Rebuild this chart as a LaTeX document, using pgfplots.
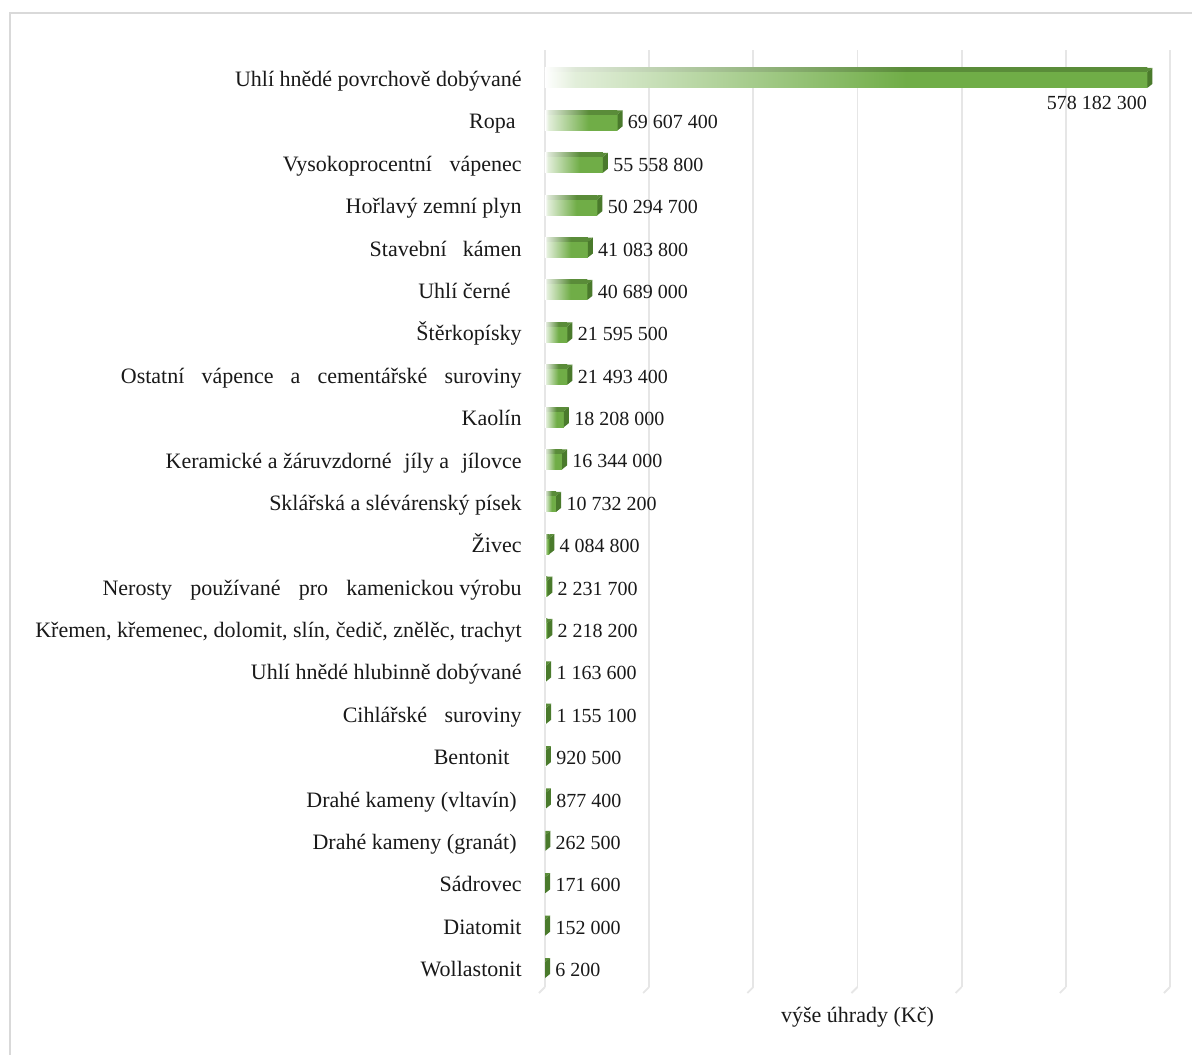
\documentclass[border=0pt]{standalone}
\usepackage{fontspec}
\setmainfont{Liberation Serif}
\usepackage{pgfplots}
\pgfplotsset{compat=1.18}
\usepackage{pgfplotstable}
\definecolor{g}{HTML}{70AD47}
\definecolor{gtop}{HTML}{5A8C39}
\definecolor{gside}{HTML}{4A7A2C}
\definecolor{gridc}{HTML}{E6E6E6}
\definecolor{framec}{HTML}{D9D9D9}
\colorlet{gpale}{white!80!g}
\colorlet{gtoppale}{white!80!gtop}
\pgfdeclarehorizontalshading{frontshade}{100bp}{color(0bp)=(white); color(25bp)=(white); color(27.5bp)=(gpale); color(55bp)=(g); color(100bp)=(g)}
\pgfdeclarehorizontalshading{topshade}{100bp}{color(0bp)=(white); color(25bp)=(white); color(27.5bp)=(gtoppale); color(55bp)=(gtop); color(100bp)=(gtop)}
\pgfdeclareplotmark{side3d}{%
  \pgfsetfillcolor{gside}%
  \pgfpathmoveto{\pgfqpoint{0pt}{-4pt}}%
  \pgfpathlineto{\pgfqpoint{2.5pt}{-2pt}}%
  \pgfpathlineto{\pgfqpoint{2.5pt}{6pt}}%
  \pgfpathlineto{\pgfqpoint{0pt}{4pt}}%
  \pgfpathclose
  \pgfusepathqfill
  \pgfsetfillcolor{gtop}%
  \pgfpathmoveto{\pgfqpoint{0pt}{4pt}}%
  \pgfpathlineto{\pgfqpoint{2.5pt}{6pt}}%
  \pgfpathlineto{\pgfqpoint{0pt}{6pt}}%
  \pgfpathclose
  \pgfusepathqfill
}
\pgfplotstableread{
y x lab
21 578182300 578~182~300
20 69607400 69~607~400
19 55558800 55~558~800
18 50294700 50~294~700
17 41083800 41~083~800
16 40689000 40~689~000
15 21595500 21~595~500
14 21493400 21~493~400
13 18208000 18~208~000
12 16344000 16~344~000
11 10732200 10~732~200
10 4084800 4~084~800
9 2231700 2~231~700
8 2218200 2~218~200
7 1163600 1~163~600
6 1155100 1~155~100
5 920500 920~500
4 877400 877~400
3 262500 262~500
2 171600 171~600
1 152000 152~000
0 6200 6~200
}\data
\begin{document}
\begin{tikzpicture}
\useasboundingbox (-272.5pt,-33.5pt) rectangle (323.5pt,493.5pt);
\draw[framec, line width=1.3pt] (-267.5pt,-40pt) -- (-267.5pt,487pt) -- (330pt,487pt);
\begin{axis}[
  at={(0,0)}, anchor=south west, scale only axis,
  width=312.5pt, height=468.5pt,
  xmin=0, xmax=600000000, ymin=-0.401, ymax=21.708,
  xtick={0,100000000,200000000,300000000,400000000,500000000,600000000},
  xticklabels={}, scaled x ticks=false,
  ytick=\empty,
  xmajorgrids, grid style={gridc, line width=0.9pt},
  axis line style={draw=none}, tick style={draw=none},
  xlabel={výše úhrady (Kč)},
  xlabel style={font=\fontsize{11}{13}\selectfont, at={(axis description cs:0.5,0)}, anchor=center, yshift=-15pt, text=black!90},
  clip=false,
]
\pgfplotsinvokeforeach{0,100000000,200000000,300000000,400000000,500000000,600000000}{
  \draw[gridc, line width=0.9pt] (axis cs:#1,-0.401) -- ++(-3pt,-3pt);
}
\pgfplotsinvokeforeach{0,...,21}{
  \addplot[xbar, bar width=8pt, bar shift=0pt, draw=none, shade, shading=frontshade,
    x filter/.code={\ifnum\coordindex=#1\relax\else\let\pgfmathresult\empty\fi}] table[x=x,y=y]{\data};
  \addplot[xbar, bar width=2pt, bar shift=5pt, draw=none, shade, shading=topshade,
    x filter/.code={\ifnum\coordindex=#1\relax\else\let\pgfmathresult\empty\fi}] table[x=x,y=y]{\data};
}
\addplot[only marks, mark=side3d, nodes near coords, point meta=explicit symbolic,
  nodes near coords style={anchor=west, inner sep=0pt, xshift=5pt, font=\fontsize{10}{12}\selectfont, text=black!90},
  skip coords between index={0}{1}] table[x=x,y=y,meta=lab]{\data};
\addplot[only marks, mark=side3d, nodes near coords, point meta=explicit symbolic,
  nodes near coords style={anchor=north east, inner sep=0pt, xshift=0pt, yshift=-8pt, font=\fontsize{10}{12}\selectfont, text=black!90},
  skip coords between index={1}{22}] table[x=x,y=y,meta=lab]{\data};
% category labels
\addplot[only marks, mark=none, nodes near coords, point meta=explicit symbolic,
  nodes near coords style={anchor=base east, inner sep=0pt, xshift=-11.5pt, yshift=-3.3pt, font=\fontsize{11}{13}\selectfont, text=black!90}]
  coordinates {
    (0,21) [{Uhlí hnědé povrchově dobývané}]
    (0,20) [{Ropa\hspace*{3pt}}]
    (0,19) [{Vysokoprocentní\hspace{6pt} vápenec}]
    (0,18) [{Hořlavý zemní plyn}]
    (0,17) [{Stavební\hspace{5.4pt} kámen}]
    (0,16) [{Uhlí černé\hspace*{5.5pt}}]
    (0,15) [{Štěrkopísky}]
    (0,14) [{Ostatní\hspace{5.8pt} vápence\hspace{5.8pt} a\hspace{5.8pt} cementářské\hspace{5.8pt} suroviny}]
    (0,13) [{Kaolín}]
    (0,12) [{Keramické a žáruvzdorné\hspace{3.6pt} jíly a\hspace{3.6pt} jílovce}]
    (0,11) [{Sklářská a slévárenský písek}]
    (0,10) [{Živec}]
    (0,9) [{Nerosty\hspace{6.3pt} používané\hspace{6.3pt} pro\hspace{6.3pt} kamenickou výrobu}]
    (0,8) [{Křemen, křemenec, dolomit, slín, čedič, znělěc, trachyt}]
    (0,7) [{Uhlí hnědé hlubinně dobývané}]
    (0,6) [{Cihlářské\hspace{6pt} suroviny}]
    (0,5) [{Bentonit\hspace*{6pt}}]
    (0,4) [{Drahé kameny (vltavín)\hspace*{2.5pt}}]
    (0,3) [{Drahé kameny (granát)\hspace*{2.5pt}}]
    (0,2) [{Sádrovec}]
    (0,1) [{Diatomit}]
    (0,0) [{Wollastonit}]
  };
\end{axis}
\end{tikzpicture}
\end{document}
